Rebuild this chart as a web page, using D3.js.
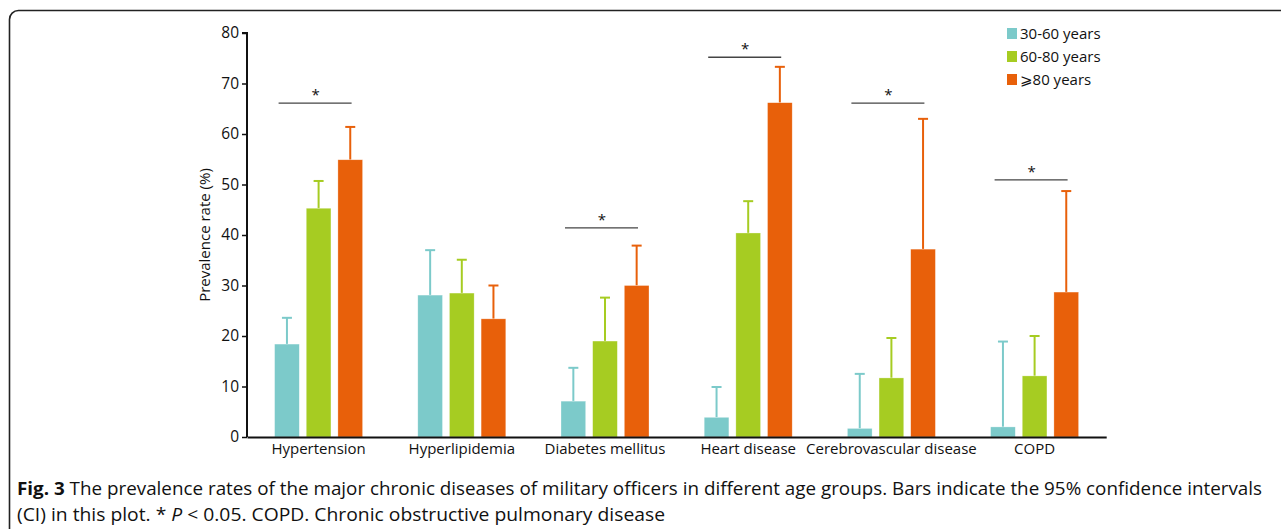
<!DOCTYPE html>
<html>
<head>
<meta charset="utf-8">
<script src="https://cdn.jsdelivr.net/npm/d3@7"></script>
<style>
  body { margin: 0; background: #fff; }
  svg text { font-family: "Open Sans", "DejaVu Sans", sans-serif; fill: #111; }
</style>
</head>
<body>
<script>
const categories = ['Hypertension', 'Hyperlipidemia', 'Diabetes mellitus', 'Heart disease', 'Cerebrovascular disease', 'COPD'];
const groups = ['30-60 years', '60-80 years', '\u2A7E80 years'];
const colors = ['#7ccaca', '#a6cc22', '#e8600a'];

// prevalence (%) per age group, one value per category
const rate3060 = [18.4, 28.1, 7.1, 3.9, 1.7, 2.0];
const rate6080 = [45.3, 28.5, 19.0, 40.4, 11.7, 12.1];
const rate80 = [54.9, 23.4, 30.0, 66.2, 37.2, 28.7];
// upper end of 95% CI
const ci3060 = [23.6, 37.0, 13.7, 9.9, 12.5, 18.9];
const ci6080 = [50.7, 35.1, 27.6, 46.7, 19.6, 20.0];
const ci80 = [61.4, 30.0, 37.9, 73.3, 63.0, 48.7];
// significance bars (null = none)
const sigLevel = [66.1, null, 41.4, 75.2, 66.1, 50.9];
const yTicks = [0, 10, 20, 30, 40, 50, 60, 70, 80];

const W = 1281, H = 529;
const svg = d3.select('body').append('svg').attr('width', W).attr('height', H);

// frame
svg.append('rect')
  .attr('x', 9.5).attr('y', 10.5)
  .attr('width', 1300).attr('height', 600)
  .attr('rx', 9)
  .attr('fill', 'none').attr('stroke', '#222').attr('stroke-width', 1.6);

const plotLeft = 247, plotBottom = 437, plotTop = 33;
const x = d3.scaleBand().domain(categories).range([plotLeft, plotLeft + 6 * 143.2]).paddingInner(0).paddingOuter(0);
const xs = d3.scaleBand().domain(groups).range([-44, 44]).paddingInner(0.22).paddingOuter(0);
const y = d3.scaleLinear().domain([0, 80]).range([plotBottom, plotTop]);

const series = [
  { name: groups[0], vals: rate3060, ci: ci3060, color: colors[0] },
  { name: groups[1], vals: rate6080, ci: ci6080, color: colors[1] },
  { name: groups[2], vals: rate80, ci: ci80, color: colors[2] }
];

series.forEach(s => {
  const g = svg.append('g');
  const bx = i => x(categories[i]) + x.bandwidth() / 2 + xs(s.name);
  const mid = i => bx(i) + xs.bandwidth() / 2;
  // error bars
  g.selectAll('line.ci').data(s.vals).enter().append('line')
    .attr('x1', (d, i) => mid(i))
    .attr('x2', (d, i) => mid(i))
    .attr('y1', d => y(d))
    .attr('y2', (d, i) => y(s.ci[i]))
    .attr('stroke', s.color).attr('stroke-width', 2);
  g.selectAll('line.cap').data(s.vals).enter().append('line')
    .attr('x1', (d, i) => mid(i) - 5)
    .attr('x2', (d, i) => mid(i) + 5)
    .attr('y1', (d, i) => y(s.ci[i]))
    .attr('y2', (d, i) => y(s.ci[i]))
    .attr('stroke', s.color).attr('stroke-width', 2);
  g.selectAll('rect').data(s.vals).enter().append('rect')
    .attr('x', (d, i) => bx(i))
    .attr('width', xs.bandwidth())
    .attr('y', d => y(d))
    .attr('height', d => plotBottom - y(d))
    .attr('fill', s.color)
    .attr('stroke', '#fff').attr('stroke-opacity', 0.5).attr('stroke-width', 0.6);
});

// significance markers
const sig = svg.append('g');
sigLevel.forEach((v, i) => {
  if (v === null) return;
  const c = x(categories[i]) + x.bandwidth() / 2;
  sig.append('line')
    .attr('x1', c - 40).attr('x2', c + 33)
    .attr('y1', y(v)).attr('y2', y(v))
    .attr('stroke', '#444').attr('stroke-width', 1.3);
  sig.append('text')
    .attr('x', c - 3).attr('y', y(v) - 3)
    .attr('text-anchor', 'middle')
    .style('font-size', '15px')
    .text('*');
});

// y axis
const yAxis = svg.append('g')
  .attr('transform', `translate(${plotLeft},0)`)
  .call(d3.axisLeft(y).tickValues(yTicks).tickSize(5).tickPadding(3));
yAxis.select('.domain').attr('stroke', '#111').attr('stroke-width', 2).attr('d', `M-5,${plotTop}H0V${plotBottom}`);
yAxis.selectAll('.tick line').attr('stroke', '#111').attr('stroke-width', 1.5);
yAxis.selectAll('.tick text').style('font-size', '15.5px').style('font-family', '"Open Sans", sans-serif').attr('fill', '#111');

// x axis
const xAxis = svg.append('g')
  .attr('transform', `translate(0,${plotBottom})`)
  .call(d3.axisBottom(x).tickSize(0).tickPadding(6));
xAxis.select('.domain').attr('stroke', '#111').attr('stroke-width', 2);
xAxis.selectAll('.tick text').style('font-size', '15px').style('font-family', '"Open Sans", sans-serif').attr('fill', '#111');

// y title
svg.append('text')
  .attr('transform', `translate(210,${(plotTop + plotBottom) / 2}) rotate(-90)`)
  .attr('text-anchor', 'middle')
  .style('font-size', '15px')
  .text('Prevalence rate (%)');

// legend
const legend = svg.append('g').attr('transform', 'translate(1007,28)');
series.forEach((s, i) => {
  const row = legend.append('g').attr('transform', `translate(0,${i * 23})`);
  row.append('rect').attr('width', 10).attr('height', 11).attr('fill', s.color);
  row.append('text').attr('x', 13).attr('y', 11).style('font-size', '15px')
    .style('font-family', '"Open Sans", "DejaVu Sans", sans-serif').text(s.name);
});

// caption
const cap1 = svg.append('text').attr('x', 17).attr('y', 495)
  .attr('textLength', 1245).attr('lengthAdjust', 'spacingAndGlyphs')
  .style('font-size', '17.5px');
cap1.append('tspan').style('font-weight', 'bold').text('Fig. 3');
cap1.append('tspan').text(' The prevalence rates of the major chronic diseases of military officers in different age groups. Bars indicate the 95% confidence intervals');

const cap2 = svg.append('text').attr('x', 17).attr('y', 521)
  .attr('textLength', 648).attr('lengthAdjust', 'spacingAndGlyphs')
  .style('font-size', '17.5px');
cap2.append('tspan').text('(CI) in this plot. * ');
cap2.append('tspan').style('font-style', 'italic').text('P');
cap2.append('tspan').text(' < 0.05. COPD. Chronic obstructive pulmonary disease');
</script>
</body>
</html>
